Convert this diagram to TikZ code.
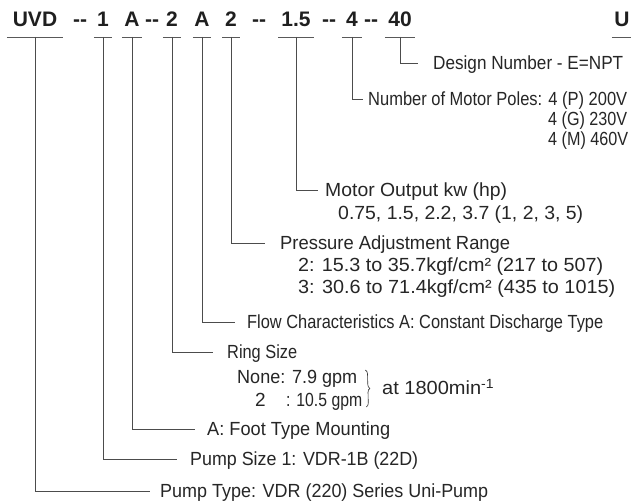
\documentclass[tikz,border=0pt]{standalone}
\usepackage{fontspec}
\setmainfont{Liberation Sans}
\usepackage{graphicx}
\usetikzlibrary{decorations.pathreplacing}
\newcommand{\fw}[2]{\resizebox{#1pt}{\height}{#2}}
\begin{document}
\begin{tikzpicture}[x=1pt,y=-1pt,
  code/.style={anchor=south, inner sep=0pt, text height=15pt, text depth=10pt,
    font=\fontsize{21}{24}\selectfont\bfseries, text=black!88},
  uline/.style={draw=black!65, line width=0.8pt},
  desc/.style={anchor=west, inner sep=0pt, text height=13.5pt, text depth=0pt,
    font=\fontsize{19}{22}\selectfont, text=black!85},
  conn/.style={draw=black!70, line width=0.7pt}]
\fill[white] (0,0) rectangle (631,503);
\useasboundingbox (0,0) rectangle (631,503);
% code line
\node[code, minimum width=56pt] (kUVD) at (35,37) {UVD};
\node[code] (h1) at (80,37) {-{}-};
\node[code, minimum width=18pt] (k1) at (103,37) {1};
\node[code, minimum width=20pt] (kA1) at (132,37) {A};
\node[code] (h2) at (152,37) {-{}-};
\node[code, minimum width=18pt] (k2a) at (172,37) {2};
\node[code, minimum width=18pt] (kA2) at (202,37) {A};
\node[code, minimum width=17pt] (k2b) at (231,37) {2};
\node[code] (h3) at (259,37) {-{}-};
\node[code, minimum width=35pt] (k15) at (296,37) {1.5};
\node[code] (h4) at (329,37) {-{}-};
\node[code, minimum width=20pt] (k4) at (352,37) {4};
\node[code] (h5) at (371,37) {-{}-};
\node[code, minimum width=30pt] (k40) at (400,37) {40};
\node[code, minimum width=20pt] (kU) at (622,37) {U};
\foreach \n in {kUVD,k1,kA1,k2a,kA2,k2b,k15,k4,k40,kU}
  \draw[uline] (\n.south west) -- (\n.south east);
% descriptions
\node[desc] (design) at (433,63) {\fw{190}{Design Number - E=NPT}};
\node[desc] (poles) at (368,99) {\fw{259}{Number of Motor Poles: 4 (P) 200V}};
\node[desc] (poles2) at (548,119) {\fw{79}{4 (G) 230V}};
\node[desc] (poles3) at (548,139) {\fw{80}{4 (M) 460V}};
\node[desc] (motor) at (325,190) {\fw{182}{Motor Output kw (hp)}};
\node[desc] (motor2) at (338,213) {\fw{245}{0.75, 1.5, 2.2, 3.7 (1, 2, 3, 5)}};
\node[desc] (press) at (280,243) {\fw{230}{Pressure Adjustment Range}};
\node[desc] (press2) at (298,265) {\fw{305}{2: 15.3 to 35.7kgf/cm² (217 to 507)}};
\node[desc] (press3) at (298,287) {\fw{317}{3: 30.6 to 71.4kgf/cm² (435 to 1015)}};
\node[desc] (flow) at (247,322) {\fw{356}{Flow Characteristics A: Constant Discharge Type}};
\node[desc] (ring) at (227,352) {\fw{70}{Ring Size}};
\node[desc] (none) at (237,377) {\fw{120}{None: 7.9 gpm}};
\node[desc] (two) at (255,400) {\makebox[31pt][l]{2}\fw{76}{: 10.5 gpm}};
\node[desc] (rpm) at (382,388) {\fw{112}{at 1800min\textsuperscript{-1}}};
\node[desc] (foot) at (207,429) {\fw{183}{A: Foot Type Mounting}};
\node[desc] (size) at (190,459) {\fw{228}{Pump Size 1: VDR-1B (22D)}};
\node[desc] (type) at (160,491) {\fw{328}{Pump Type: VDR (220) Series Uni-Pump}};
% connectors
\draw[conn] (k40.south) |- ([xshift=-15pt]design.west);
\draw[conn] (k4.south) |- ([xshift=-5pt]poles.west);
\draw[conn] (k15.south) |- ([xshift=-7pt]motor.west);
\draw[conn] (k2b.south) |- ([xshift=-15pt]press.west);
\draw[conn] (kA2.south) |- ([xshift=-12pt]flow.west);
\draw[conn] (k2a.south) |- ([xshift=-14pt]ring.west);
\draw[conn] (kA1.south) |- ([xshift=-12pt]foot.west);
\draw[conn] (k1.south) |- ([xshift=-13pt]size.west);
\draw[conn] (kUVD.south) |- ([xshift=-10pt]type.west);
% brace
\draw[decorate, decoration={brace, amplitude=4pt}, draw=black!80, line width=0.6pt]
  ([xshift=8pt]none.north east) -- ([xshift=4pt]two.south east);
\end{tikzpicture}
\end{document}
